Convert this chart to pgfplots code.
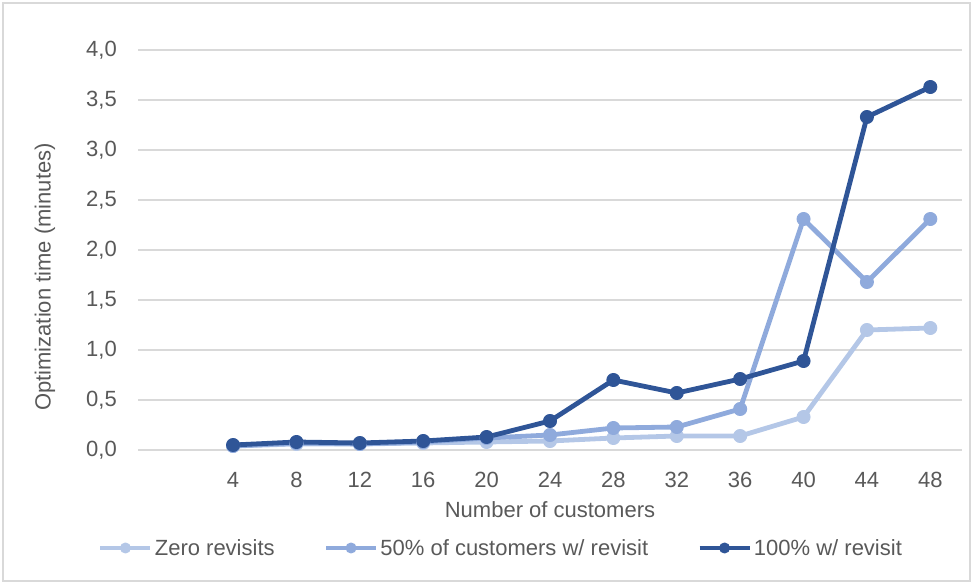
\documentclass[border=0pt]{standalone}
\usepackage{pgfplots}
\pgfplotsset{compat=1.18}
\usepackage{fontspec}
\setmainfont{Liberation Sans}
\definecolor{cLight}{HTML}{B4C7E7}
\definecolor{cMed}{HTML}{8FAADC}
\definecolor{cDark}{HTML}{2F5597}
\definecolor{gridc}{HTML}{D9D9D9}
\definecolor{txt}{HTML}{595959}
\newcommand{\cf}{\fontsize{22bp}{26bp}\selectfont}
\begin{document}
\begin{tikzpicture}
\useasboundingbox (0,0) rectangle (973bp,584bp);
\draw[color=gridc, line width=1.5bp] (3bp,3bp) rectangle (970bp,581bp);
\begin{axis}[
  at={(138bp,134bp)}, anchor=south west,
  scale only axis, width=824bp, height=400bp,
  xmin=-0.5, xmax=12.5, ymin=0, ymax=4,
  xtick={1,...,12}, xticklabels={4,8,12,16,20,24,28,32,36,40,44,48},
  ytick={0,0.5,1,1.5,2,2.5,3,3.5,4},
  ymajorgrids, major grid style={draw=gridc, line width=1.3bp},
  axis line style={draw=none}, major tick length=0pt,
  tick label style={font=\cf, text=txt},
  yticklabel style={anchor=east, inner sep=0pt, xshift=-21bp,
    /pgf/number format/fixed, /pgf/number format/fixed zerofill,
    /pgf/number format/precision=1, /pgf/number format/use comma,
    /pgf/number format/assume math mode=true},
  xticklabel style={anchor=north, inner sep=0pt, yshift=-22bp},
  xlabel={Number of customers},
  xlabel style={at={(axis description cs:0.5,-0.128)}, anchor=north, inner sep=0pt, font=\cf, text=txt},
  ylabel={Optimization time (minutes)},
  ylabel style={at={(axis description cs:-0.113,0.4325)}, anchor=center, inner sep=0pt, font=\cf, text=txt},
  legend columns=3,
  legend style={at={(axis description cs:0.4405,-0.245)}, anchor=center, draw=none, fill=none,
    font=\cf, text=txt, inner sep=0pt,
    /tikz/every even column/.append style={column sep=47bp}},
  legend image code/.code={\draw[mark repeat=2,mark phase=2,#1,line width=4.8bp,mark size=5bp] plot coordinates {(0bp,0bp) (25bp,0bp) (50bp,0bp)};},
  every axis plot/.append style={line width=4.8bp, mark=*, mark size=6.5bp, line join=round},
  clip=false
]
\addplot[cLight, mark options={fill=cLight, line width=1bp}] coordinates {(1,0.04)(2,0.06)(3,0.06)(4,0.07)(5,0.08)(6,0.09)(7,0.12)(8,0.14)(9,0.14)(10,0.33)(11,1.20)(12,1.22)};
\addlegendentry{Zero revisits}
\addplot[cMed, mark options={fill=cMed, line width=1bp}] coordinates {(1,0.04)(2,0.07)(3,0.06)(4,0.08)(5,0.12)(6,0.15)(7,0.22)(8,0.23)(9,0.41)(10,2.31)(11,1.68)(12,2.31)};
\addlegendentry{50\% of customers w/ revisit}
\addplot[cDark, mark options={fill=cDark, line width=1bp}] coordinates {(1,0.05)(2,0.08)(3,0.07)(4,0.09)(5,0.13)(6,0.29)(7,0.70)(8,0.57)(9,0.71)(10,0.89)(11,3.33)(12,3.63)};
\addlegendentry{100\% w/ revisit}
\end{axis}
\end{tikzpicture}
\end{document}
